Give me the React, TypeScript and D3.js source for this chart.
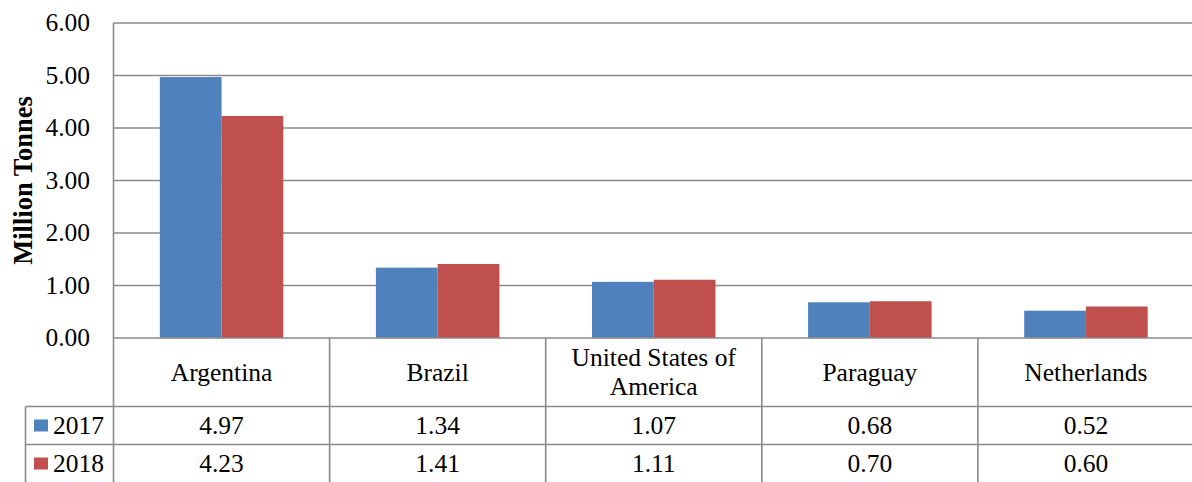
import React from "react";
import * as d3 from "d3";

const categories = ["Argentina", "Brazil", "United States of America", "Paraguay", "Netherlands"];
const categoryLines = [["Argentina"], ["Brazil"], ["United States of", "America"], ["Paraguay"], ["Netherlands"]];
const seriesNames = ["2017", "2018"];
const values2017 = [4.97, 1.34, 1.07, 0.68, 0.52];
const values2018 = [4.23, 1.41, 1.11, 0.7, 0.6];
const yTicks = [0, 1, 2, 3, 4, 5, 6];
const colors = ["#4F81BD", "#C0504D"];

const FONT = "Liberation Serif";
const FS = 25.5;

function T(props: any) {
  return <text fontFamily={FONT} fontSize={FS} fill="#000" {...props} />;
}

export default function App() {
  const W = 1192, H = 482;
  const left = 113.5, right = 1194, top = 23, zeroY = 338;
  const catRowBottom = 406.5, row1Bottom = 444.5, row2Bottom = 482.5;
  const legendLeft = 25.5;
  const grid = "#8a8a8a";

  const x = d3.scaleBand<string>().domain(categories).range([left, right]).paddingInner(0).paddingOuter(0);
  const bw = x.bandwidth() / 3.5;
  const y = d3.scaleLinear().domain([0, 6]).range([zeroY, top]);
  const series = [values2017, values2018];

  return (
    <div style={{ position: "fixed", left: 0, top: 0 }}>
      <svg width={W} height={H} style={{ display: "block" }}>
        <rect width={W} height={H} fill="#fff" />
        {yTicks.map((t) => (
          <g key={t}>
            {t > 0 && <line x1={left} x2={W} y1={y(t)} y2={y(t)} stroke={grid} strokeWidth={1.6} />}
            <T x={90} y={y(t)} dy="0.33em" textAnchor="end">
              {d3.format(".2f")(t)}
            </T>
          </g>
        ))}
        {categories.map((c, i) =>
          series.map((s, j) => (
            <rect
              key={c + j}
              x={(x(c) as number) + bw * 0.75 + j * bw}
              y={y(s[i])}
              width={bw}
              height={zeroY - y(s[i])}
              fill={colors[j]}
            />
          ))
        )}
        <line x1={left} x2={W} y1={zeroY} y2={zeroY} stroke={grid} strokeWidth={1.6} />
        <line x1={legendLeft} x2={W} y1={catRowBottom} y2={catRowBottom} stroke={grid} strokeWidth={1.6} />
        <line x1={legendLeft} x2={W} y1={row1Bottom} y2={row1Bottom} stroke={grid} strokeWidth={1.6} />
        <line x1={left} x2={left} y1={top} y2={H} stroke={grid} strokeWidth={1.6} />
        <line x1={legendLeft} x2={legendLeft} y1={catRowBottom} y2={H} stroke={grid} strokeWidth={1.6} />
        {categories.slice(1).map((c) => (
          <line key={c} x1={x(c) as number} x2={x(c) as number} y1={zeroY} y2={H} stroke={grid} strokeWidth={1.6} />
        ))}
        {categories.map((c, i) => {
          const cx = (x(c) as number) + x.bandwidth() / 2;
          const lines = categoryLines[i];
          const mid = (zeroY + catRowBottom) / 2;
          return (
            <g key={c}>
              {lines.map((l, k) => (
                <T key={k} x={cx} y={mid + (k - (lines.length - 1) / 2) * 29} dy="0.33em" textAnchor="middle">
                  {l}
                </T>
              ))}
              {series.map((s, j) => (
                <T
                  key={j}
                  x={cx}
                  y={j === 0 ? (catRowBottom + row1Bottom) / 2 : (row1Bottom + row2Bottom) / 2}
                  dy="0.33em"
                  textAnchor="middle"
                >
                  {d3.format(".2f")(s[i])}
                </T>
              ))}
            </g>
          );
        })}
        {seriesNames.map((n, j) => {
          const cy = j === 0 ? (catRowBottom + row1Bottom) / 2 : (row1Bottom + row2Bottom) / 2;
          return (
            <g key={n}>
              <rect x={34} y={cy - 6} width={14} height={12} fill={colors[j]} />
              <T x={53} y={cy} dy="0.33em">
                {n}
              </T>
            </g>
          );
        })}
        <T
          transform={`translate(32, ${(top + zeroY) / 2}) rotate(-90)`}
          textAnchor="middle"
          fontWeight="bold"
          fontSize={26.5}
        >
          Million Tonnes
        </T>
      </svg>
    </div>
  );
}
